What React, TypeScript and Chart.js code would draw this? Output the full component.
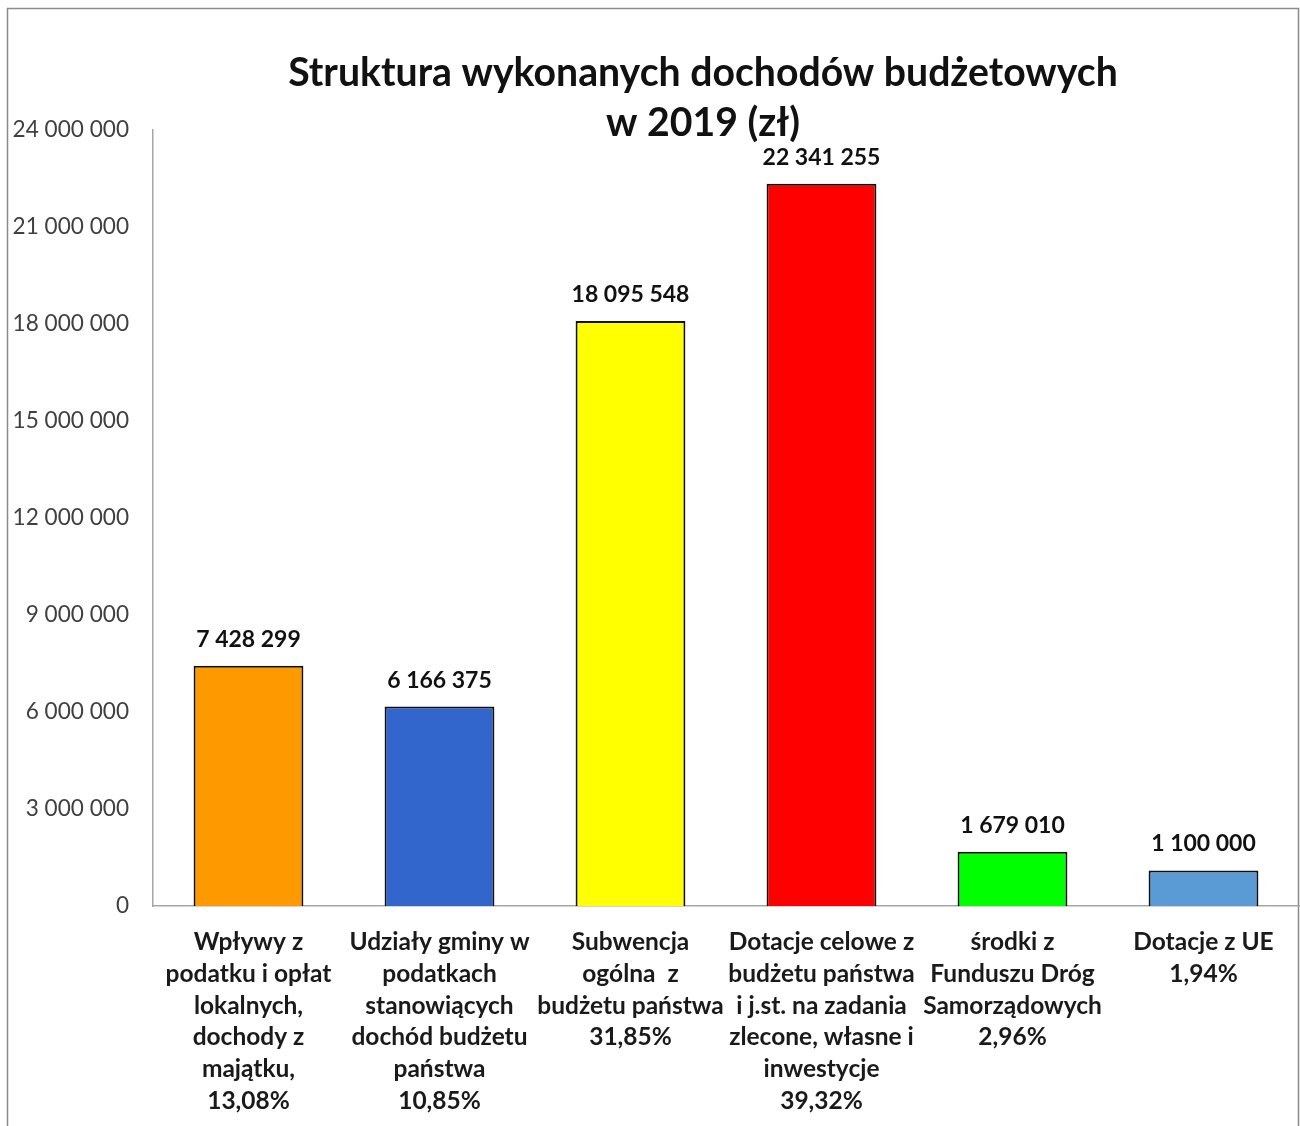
import React, { useEffect, useRef } from "react";
import { Chart, registerables } from "chart.js";

Chart.register(...registerables);

const titleLines = ["Struktura wykonanych dochodów budżetowych", "w 2019 (zł)"];

const categories: string[][] = [
  ["Wpływy z", "podatku i opłat", "lokalnych,", "dochody z", "majątku,", "13,08%"],
  ["Udziały gminy w", "podatkach", "stanowiących", "dochód budżetu", "państwa", "10,85%"],
  ["Subwencja", "ogólna  z", "budżetu państwa", "31,85%"],
  ["Dotacje celowe z", "budżetu państwa", "i j.st. na zadania", "zlecone, własne i", "inwestycje", "39,32%"],
  ["środki z", "Funduszu Dróg", "Samorządowych", "2,96%"],
  ["Dotacje z UE", "1,94%"],
];

const values = [7428299, 6166375, 18095548, 22341255, 1679010, 1100000];

const barColors = ["#FF9900", "#3366CC", "#FFFF00", "#FF0000", "#00FF00", "#5B9BD5"];

const yMin = 0;
const yMax = 24000000;
const yStep = 3000000;

const fmt = (v: number) => Math.round(v).toString().replace(/\B(?=(\d{3})+(?!\d))/g, " ");

const FONT = "Lato, 'Open Sans', sans-serif";

export default function App() {
  const ref = useRef<HTMLCanvasElement | null>(null);

  useEffect(() => {
    if (!ref.current) return;
    const frameAndTitle = {
      id: "frameAndTitle",
      beforeDraw(chart: any) {
        const ctx = chart.ctx;
        ctx.save();
        ctx.fillStyle = "#ffffff";
        ctx.fillRect(0, 0, chart.width, chart.height);
        ctx.strokeStyle = "#8a8a8a";
        ctx.lineWidth = 1.5;
        ctx.strokeRect(7.5, 8.5, 1291, 1300);
        ctx.restore();
      },
      afterDraw(chart: any) {
        const ctx = chart.ctx;
        ctx.save();
        ctx.fillStyle = "#111111";
        ctx.font = `bold 39.2px ${FONT}`;
        ctx.textAlign = "center";
        ctx.textBaseline = "middle";
        titleLines.forEach((t, i) => ctx.fillText(t, 703, 73 + i * 50));
        ctx.restore();
      },
    };
    const dataLabels = {
      id: "dataLabels",
      afterDatasetsDraw(chart: any) {
        const ctx = chart.ctx;
        const meta = chart.getDatasetMeta(0);
        ctx.save();
        ctx.fillStyle = "#111111";
        ctx.font = `bold 23px ${FONT}`;
        ctx.textAlign = "center";
        ctx.textBaseline = "alphabetic";
        meta.data.forEach((bar: any, i: number) => {
          ctx.fillText(fmt(values[i]), bar.x, bar.y - 19);
        });
        ctx.restore();
      },
    };
    const chart = new Chart(ref.current, {
      type: "bar",
      data: {
        labels: categories,
        datasets: [
          {
            data: values,
            backgroundColor: barColors,
            borderColor: "#111111",
            borderWidth: 2,
            categoryPercentage: 1,
            barPercentage: 0.575,
          },
        ],
      },
      options: {
        responsive: false,
        animation: false,
        layout: { padding: { top: 130, right: 1, left: 0, bottom: 0 } },
        plugins: {
          legend: { display: false },
          title: { display: false },
          tooltip: { enabled: false },
        },
        scales: {
          x: {
            grid: { display: false, drawTicks: false },
            border: { display: true, color: "#a6a6a6", width: 1.5 },
            ticks: {
              autoSkip: false,
              maxRotation: 0,
              minRotation: 0,
              padding: 20,
              color: "#1a1a1a",
              font: { family: FONT, size: 24.5, weight: "bold", lineHeight: 1.3 },
            },
            afterFit(scale: any) {
              scale.height = 220;
            },
          },
          y: {
            min: yMin,
            max: yMax,
            grid: { display: false, drawTicks: false },
            border: { display: true, color: "#a6a6a6", width: 1.5 },
            ticks: {
              stepSize: yStep,
              padding: 24,
              color: "#404040",
              font: { family: FONT, size: 22.6 },
              callback: (v: any) => fmt(Number(v)),
            },
            afterFit(scale: any) {
              scale.width = 153;
            },
          },
        },
      },
      plugins: [frameAndTitle, dataLabels],
    } as any);
    return () => chart.destroy();
  }, []);

  return (
    <div style={{ position: "fixed", left: 0, top: 0, width: 1300, height: 1126, background: "#fff" }}>
      <canvas ref={ref} width={1300} height={1126} style={{ display: "block" }} />
    </div>
  );
}
